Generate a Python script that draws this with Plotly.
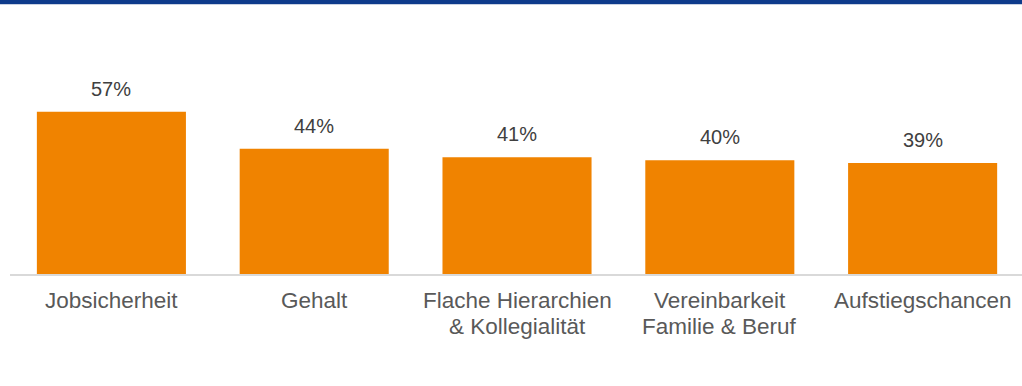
import plotly.graph_objects as go

# Survey data: share of respondents naming each factor
categories = ["Jobsicherheit", "Gehalt", "Flache Hierarchien & Kollegialität",
              "Vereinbarkeit Familie & Beruf", "Aufstiegschancen"]
label_lines = [["Jobsicherheit"], ["Gehalt"], ["Flache Hierarchien", "& Kollegialität"],
               ["Vereinbarkeit", "Familie & Beruf"], ["Aufstiegschancen"]]
values = [57, 44, 41, 40, 39]

W, H = 1022, 386
M_L, M_R, M_T, M_B = 10, 0, 30, 112
plot_h = H - M_T - M_B
plot_w = W - M_L - M_R

BAR = "#F08300"
TEXT = "#595959"
FONT = "Arial, Liberation Sans, sans-serif"

x_idx = list(range(len(categories)))

fig = go.Figure(go.Bar(
    x=x_idx, y=values, marker=dict(color=BAR, line=dict(width=0)),
    width=0.735, hoverinfo="skip",
))

annotations = []
# value labels above bars
for i, v in zip(x_idx, values):
    annotations.append(dict(x=i, y=v, xref="x", yref="y", text=f"{v}%",
                            showarrow=False, yanchor="bottom", yshift=10,
                            font=dict(family=FONT, size=20, color="#404040")))
# category labels under the axis, one annotation per line
for i, lines in zip(x_idx, label_lines):
    for k, line in enumerate(lines):
        annotations.append(dict(x=i, y=0, xref="x", yref="paper", text=line,
                                showarrow=False, yanchor="top", borderpad=0,
                                yshift=-13 - 25.5 * k,
                                font=dict(family=FONT, size=22.5, color=TEXT)))

def py(p):
    return (H - M_B - p) / plot_h

shapes = [
    dict(type="rect", xref="paper", yref="paper", x0=-M_L / plot_w, x1=1.0,
         y0=py(4), y1=py(0), fillcolor="#0E3B8B", line=dict(width=0), layer="above"),
    dict(type="rect", xref="paper", yref="paper", x0=-M_L / plot_w, x1=1.0,
         y0=py(5), y1=py(4), fillcolor="#C9D1E2", line=dict(width=0), layer="above"),
]

fig.update_layout(
    width=W, height=H,
    margin=dict(l=M_L, r=M_R, t=M_T, b=M_B, pad=0),
    paper_bgcolor="white", plot_bgcolor="white",
    showlegend=False,
    annotations=annotations,
    shapes=shapes,
    xaxis=dict(range=[-0.5, 4.49], showticklabels=False, ticks="", showgrid=False,
               zeroline=False, showline=True, linecolor="#D9D9D9", linewidth=2),
    yaxis=dict(range=[0, plot_h / 2.846], visible=False, showgrid=False, zeroline=False),
)

fig.write_html("out.html")
